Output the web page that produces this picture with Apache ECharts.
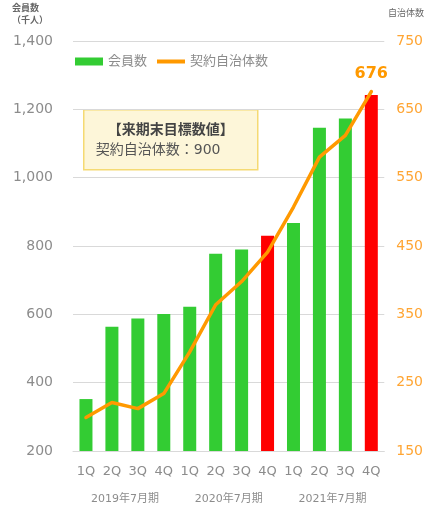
<!DOCTYPE html>
<html>
<head>
<meta charset="utf-8">
<script src="https://cdn.jsdelivr.net/npm/echarts@6/dist/echarts.min.js"></script>
<style>
  html, body { margin: 0; padding: 0; background: #fff; }
  #chart { width: 426px; height: 505px; }
</style>
</head>
<body>
<div id="chart"></div>
<script>
// 四半期ラベル
const quarters = ['1Q', '2Q', '3Q', '4Q', '1Q', '2Q', '3Q', '4Q', '1Q', '2Q', '3Q', '4Q'];
// 決算期ラベル
const fiscalYears = ['2019年7月期', '2020年7月期', '2021年7月期'];
// 会員数（千人）
const members = [352, 564, 588, 601, 622, 777, 790, 830, 867, 1146, 1173, 1242];
// 契約自治体数
const municipalities = [199, 221, 212, 234, 295, 364, 398, 441, 507, 580, 612, 676];
// 赤で強調する棒（各期末）
const highlightIdx = [7, 11];

const leftTicks = { min: 200, max: 1400, interval: 200 };
const rightTicks = { min: 150, max: 750, interval: 50 };

const font = 'DejaVu Sans, "Noto Sans CJK JP", sans-serif';
const grey = '#8c8c8c';
const green = '#33CC33';
const orange = '#FF9900';

const chart = echarts.init(document.getElementById('chart'));

chart.setOption({
  animation: false,
  textStyle: { fontFamily: font },
  grid: { left: 73, right: 41, top: 41, bottom: 54 },
  legend: {
    left: 70,
    top: 50,
    itemWidth: 28,
    itemHeight: 8,
    itemGap: 10,
    textStyle: { color: grey, fontSize: 13, fontFamily: font },
    data: [
      { name: '会員数', icon: 'rect', itemStyle: { color: green } },
      { name: '契約自治体数', icon: 'path://M0,0 H28 V4 H0 Z', itemStyle: { color: orange } }
    ]
  },
  xAxis: [
    {
      type: 'category',
      data: quarters,
      axisLine: { lineStyle: { color: '#d9d9d9' } },
      axisTick: { show: false },
      axisLabel: { color: grey, fontSize: 13, margin: 14 }
    },
    {
      type: 'category',
      position: 'bottom',
      offset: 29,
      data: fiscalYears,
      axisLine: { show: false },
      axisTick: { show: false },
      axisLabel: { color: grey, fontSize: 11, margin: 14 }
    }
  ],
  yAxis: [
    {
      type: 'value',
      min: leftTicks.min,
      max: leftTicks.max,
      interval: leftTicks.interval,
      axisLine: { show: false },
      axisTick: { show: false },
      splitLine: { lineStyle: { color: '#d9d9d9' } },
      axisLabel: {
        color: grey,
        fontSize: 14,
        margin: 20,
        formatter: v => v.toLocaleString('en-US')
      }
    },
    {
      type: 'value',
      min: rightTicks.min,
      max: rightTicks.max,
      interval: rightTicks.interval,
      axisLine: { show: false },
      axisTick: { show: false },
      splitLine: { show: false },
      axisLabel: {
        color: '#FFA533',
        fontSize: 14,
        margin: 12,
        formatter: v => ((v - 150) % 100 === 0 ? String(v) : '')
      }
    }
  ],
  series: [
    {
      name: '会員数',
      type: 'bar',
      data: members,
      barWidth: 13,
      itemStyle: {
        color: p => (highlightIdx.includes(p.dataIndex) ? '#FF0000' : green)
      }
    },
    {
      name: '契約自治体数',
      type: 'line',
      yAxisIndex: 1,
      data: municipalities,
      symbol: 'circle',
      symbolSize: 1,
      showSymbol: true,
      lineStyle: { color: orange, width: 3.5, cap: 'round' },
      itemStyle: { color: orange },
      label: {
        show: true,
        position: 'top',
        distance: 9,
        color: orange,
        fontSize: 16,
        fontWeight: 'bold',
        formatter: p => (p.dataIndex === municipalities.length - 1 ? String(p.value) : '')
      }
    }
  ],
  graphic: [
    {
      type: 'text',
      left: 12,
      top: 2,
      style: {
        text: '会員数\n（千人）',
        fill: '#666',
        font: 'bold 9px "Noto Sans CJK JP"',
        lineHeight: 12
      }
    },
    {
      type: 'text',
      right: 2,
      top: 8,
      style: {
        text: '自治体数',
        fill: '#666',
        font: '9px "Noto Sans CJK JP"'
      }
    },
    {
      type: 'group',
      left: 83,
      top: 109,
      children: [
        {
          type: 'rect',
          shape: { x: 0, y: 0, width: 174, height: 60 },
          style: { fill: '#FDF6D9', stroke: '#F5DA73', lineWidth: 1.5 }
        },
        {
          type: 'text',
          x: 87,
          y: 12,
          style: {
            text: '【来期末目標数値】',
            fill: '#444',
            font: 'bold 14px "Noto Sans CJK JP"',
            textAlign: 'center'
          }
        },
        {
          type: 'text',
          x: 12,
          y: 34,
          style: {
            text: '契約自治体数：900',
            fill: '#555',
            font: '14px DejaVu Sans, "Noto Sans CJK JP"'
          }
        }
      ]
    }
  ]
});
</script>
</body>
</html>
